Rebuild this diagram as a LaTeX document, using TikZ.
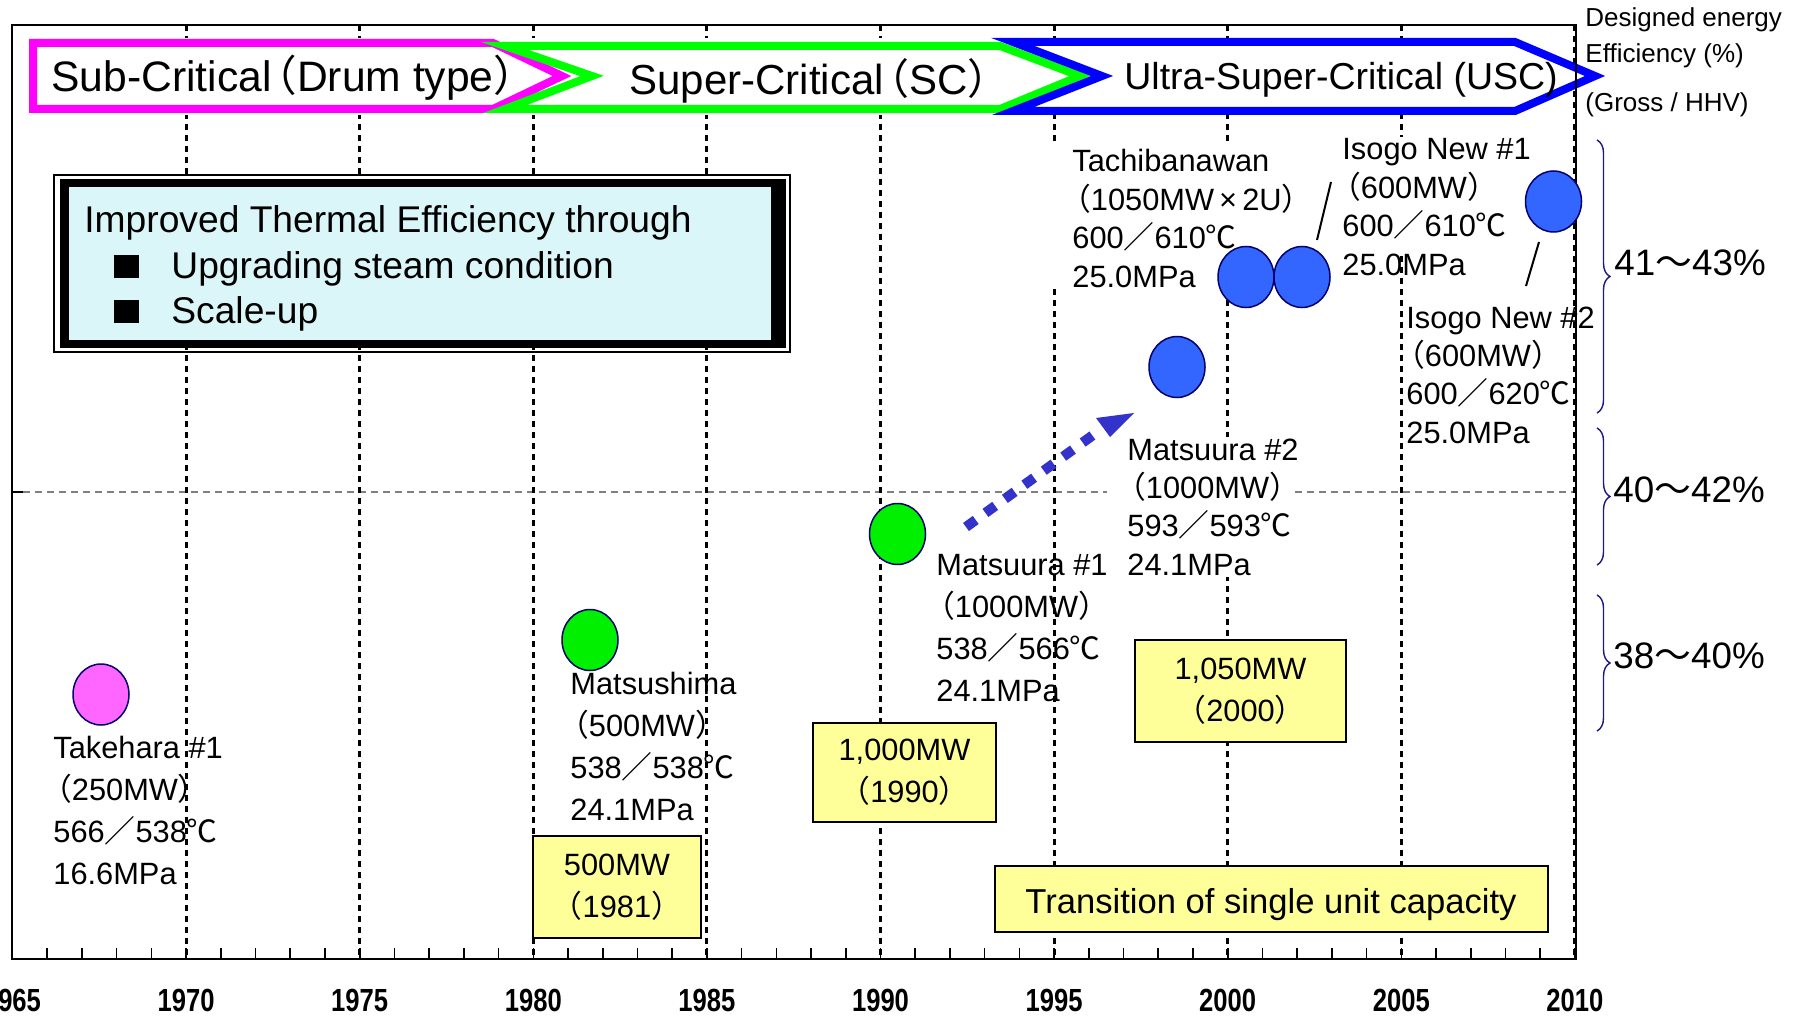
\documentclass[tikz,border=0pt]{standalone}
\usepackage{fontspec}
\setmainfont{Liberation Sans}
\newfontfamily\cjk{Noto Sans CJK JP}
\newfontfamily\yearfont{Liberation Sans}[FakeStretch=0.8]
\usetikzlibrary{shapes.geometric,decorations.pathreplacing}

\definecolor{subc}{HTML}{FF00FF}
\definecolor{scc}{HTML}{00FF00}
\definecolor{uscc}{HTML}{0000FF}
\definecolor{pinkdot}{HTML}{FF66FF}
\definecolor{greendot}{HTML}{00F000}
\definecolor{bluedot}{HTML}{3366FF}
\definecolor{dotline}{HTML}{000070}
\definecolor{boxcyan}{HTML}{DAF6F8}
\definecolor{boxyellow}{HTML}{FFFF99}
\definecolor{arrowblue}{HTML}{3333CC}
\definecolor{bracec}{HTML}{1A1A80}

% full-width punctuation taken from the CJK font
\newcommand\myLp{\makebox[0.6em][r]{\cjk （}}
\newcommand\myRp{\makebox[0.6em][l]{\cjk ）}}
\newcommand\mySl{{\cjk ／}}
\newcommand\myDeg{{\cjk ℃}}
\newcommand\myTl{{\cjk ～}}
\newcommand\myLines[1]{\begin{tabular}[t]{@{}l@{}}#1\end{tabular}}

\begin{document}
\begin{tikzpicture}[x=0.5pt,y=-0.5pt,
  yearline/.style={line width=1.5pt, dash pattern=on 3pt off 2.5pt},
  banner/.style={line width=4pt, fill=white, miter limit=10},
  dot/.style={ellipse, draw=dotline, line width=0.75pt, minimum width=28pt, minimum height=30.5pt, inner sep=0pt},
  lbl/.style={anchor=base west, inner sep=0pt, font=\fontsize{15.4}{21}\selectfont},
  lblB/.style={anchor=base west, inner sep=0pt, font=\fontsize{15.4}{19.2}\selectfont},
  ybox/.style={draw=black, line width=1pt, fill=boxyellow, inner sep=0pt, align=center, font=\fontsize{15.4}{21}\selectfont},
  brc/.style={draw=bracec, line width=0.7pt, decorate, decoration={brace, amplitude=6.5pt}},
  pct/.style={anchor=base west, inner sep=0pt, font=\fontsize{18.4}{22}\selectfont},
  note/.style={anchor=base west, inner sep=0pt, font=\fontsize{13}{15}\selectfont},
  yr/.style={inner sep=0pt, font=\yearfont\bfseries\fontsize{16}{19}\selectfont},
  bantext/.style={anchor=base west, inner sep=0pt, font=\fontsize{21.3}{25}\selectfont},
  mask/.style={fill=white}]

\useasboundingbox (0,0) rectangle (1803,1016);
\fill[white] (0,0) rectangle (1803,1016);

% ---- grid: 40 % reference line and year lines
\draw[gray, line width=0.6pt, dash pattern=on 3.5pt off 2.5pt] (23,492) -- (1575,492);
\draw[line width=1pt] (12,492) -- (23,492);
\foreach \k in {1,...,9}
  \draw[yearline] (12.5+\k*173.6,25) -- (12.5+\k*173.6,959);
\foreach \k in {0,...,45}
  \draw[line width=0.8pt] (12.5+\k*34.72,959) -- ++(0,-11);

% ---- technology banner
\fill[white] (29,38) rectangle (1515,115);
\draw[banner, draw=subc] (33,43) -- (493,43) -- (562,76) -- (493,109) -- (33,109) -- cycle;
\draw[banner, draw=scc] (505,46) -- (1000,46) -- (1080,76) -- (1000,109) -- (505,109) -- (592,76) -- cycle;
\draw[banner, draw=uscc] (1013,42) -- (1515,42) -- (1595,76) -- (1515,111) -- (1013,111) -- (1102,76) -- cycle;
\node[bantext] (tSub) at (51,92) {Sub-Critical\myLp Drum type\myRp};
\node[bantext, font=\fontsize{21}{25}\selectfont] (tSC) at (629,95) {Super-Critical\myLp SC\myRp};
\node[bantext, font=\fontsize{18.75}{22}\selectfont] (tUSC) at (1124,90) {Ultra-Super-Critical (USC)};

% ---- plot frame
\draw[line width=1pt] (12,25) rectangle (1576,959);
\draw[line width=1.25pt] (11,959) -- (1576,959);

% ---- headline box
\draw[line width=0.75pt] (54,175) rectangle (790,352);
\fill[black] (60,179) rectangle (786,348);
\fill[boxcyan] (69,187) rectangle (771,340);
\node[anchor=base west, inner sep=0pt, font=\fontsize{18.6}{22.6}\selectfont] (eff) at (84,233)
  {\myLines{Improved Thermal Efficiency through\\
   \hspace{15pt}\rule{12.5pt}{11.5pt}\hspace{16pt}Upgrading steam condition\\
   \hspace{15pt}\rule{12.5pt}{11.5pt}\hspace{16pt}Scale-up}};

% ---- white backing behind some labels
\fill[mask] (1045,143) rectangle (1300,288);
\fill[mask] (1335,137) rectangle (1515,253);
\fill[mask] (1107,437) rectangle (1292,577);

% ---- plant labels
\node[lbl] (lTak) at (53,758) {\myLines{Takehara \#1\\\myLp 250MW\myRp\\566\mySl 538\myDeg\\16.6MPa}};
\node[lbl] (lMsh) at (570,694) {\myLines{Matsushima\\\myLp 500MW\myRp\\538\mySl 538\myDeg\\24.1MPa}};
\node[lbl] (lMa1) at (936,575) {\myLines{Matsuura \#1\\\myLp 1000MW\myRp\\538\mySl 566\myDeg\\24.1MPa}};
\node[lblB] (lMa2) at (1127,460) {\myLines{Matsuura \#2\\\myLp 1000MW\myRp\\593\mySl 593\myDeg\\24.1MPa}};
\node[lblB] (lTac) at (1072,172) {\myLines{Tachibanawan\\\myLp 1050MW\,×\,2U\myRp\\600\mySl 610\myDeg\\25.0MPa}};
\node[lblB] (lIs1) at (1342,160) {\myLines{Isogo New \#1\\\myLp 600MW\myRp\\600\mySl 610\myDeg\\25.0MPa}};
\node[lblB] (lIs2) at (1406,328) {\myLines{Isogo New \#2\\\myLp 600MW\myRp\\600\mySl 620\myDeg\\25.0MPa}};

% ---- plant markers
\node[dot, fill=pinkdot] (dTak) at (101,694.5) {};
\node[dot, fill=greendot] (dMsh) at (590,640) {};
\node[dot, fill=greendot] (dMa1) at (897.5,534) {};
\node[dot, fill=bluedot] (dMa2) at (1177,367) {};
\node[dot, fill=bluedot] (dTa1) at (1246,277) {};
\node[dot, fill=bluedot] (dTa2) at (1302,277) {};
\node[dot, fill=bluedot] (dIso) at (1553.5,201.5) {};

% ---- leader lines
\coordinate (k1a) at (1317,240); \coordinate (k1b) at (1331,182);
\coordinate (k2a) at (1539,242); \coordinate (k2b) at (1526,286);
\draw[line width=1pt] (k1a) -- (k1b);
\draw[line width=1pt] (k2a) -- (k2b);

% ---- trend arrow
\coordinate (aS) at (966,527);
\coordinate (aB) at (1100,430);
\coordinate (aT) at (1134,413);
\coordinate (aL) at (1096,418);
\coordinate (aR) at (1110,437);
\draw[arrowblue, line width=5pt, dash pattern=on 6pt off 6pt] (aS) -- (aB);
\fill[arrowblue] (aT) -- (aL) -- (aR) -- cycle;

% ---- unit capacity boxes
\node[ybox, minimum width=84pt, minimum height=51pt] (c81) at (617,887) {500MW\\\myLp 1981\myRp};
\node[ybox, minimum width=91.5pt, minimum height=49.5pt] (c90) at (904.5,772.5) {1,000MW\\\myLp 1990\myRp};
\node[ybox, minimum width=105.5pt, minimum height=51pt] (c00) at (1240.5,691) {1,050MW\\\myLp 2000\myRp};
\node[ybox, minimum width=276.5pt, minimum height=33pt] (cap) at (1271,899) {};
\node[anchor=base, inner sep=0pt, font=\fontsize{17.3}{21}\selectfont] (capT) at (1271,913) {Transition of single unit capacity};

% ---- efficiency ranges
\draw[brc] (1597,140) -- (1597,413);
\draw[brc] (1597,428) -- (1597,565);
\draw[brc] (1597,595) -- (1597,731);
\node[pct] (p1) at (1614,275) {41\myTl 43\%};
\node[pct] (p2) at (1613,502) {40\myTl 42\%};
\node[pct] (p3) at (1613,668) {38\myTl 40\%};

\node[note] (n1) at (1585,27) {Designed energy};
\node[note] (n2) at (1585,63) {Efficiency (\%)};
\node[note] (n3) at (1585,112) {(Gross / HHV)};

% ---- year axis
\foreach \yy [count=\k from 0] in {1965,1970,...,2010}
  \node[yr] (y\yy) at (12.5+\k*173.6,1000) {\yy};

\end{tikzpicture}
\end{document}
